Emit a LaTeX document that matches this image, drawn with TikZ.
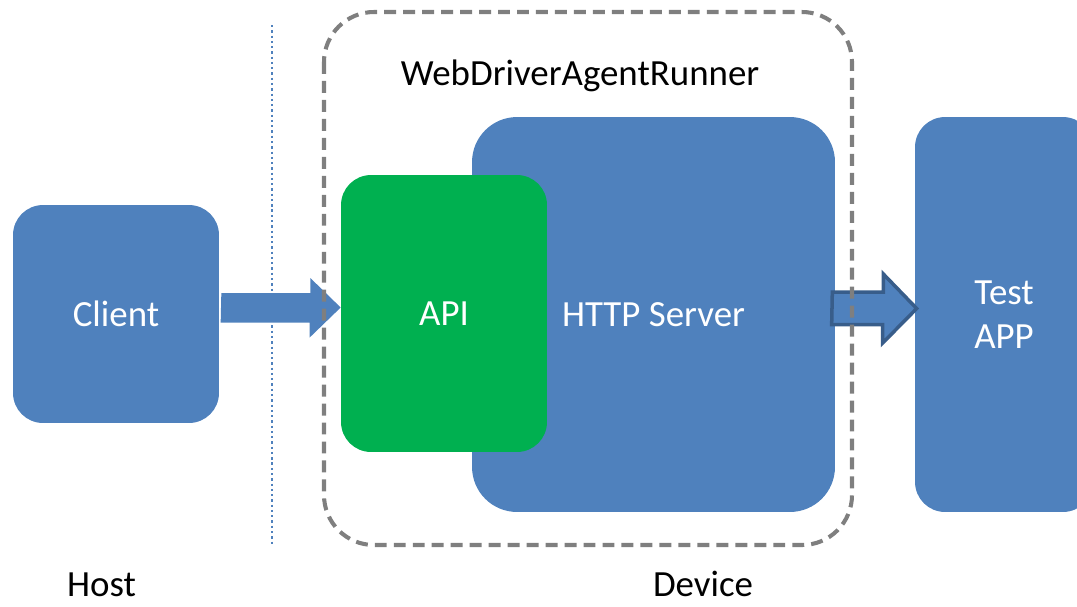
\documentclass[tikz,border=0pt]{standalone}
\usepackage{fontspec}
\setmainfont{Carlito}
\usetikzlibrary{calc}

\definecolor{boxblue}{HTML}{4F81BD}
\definecolor{edgeblue}{HTML}{385D8A}
\definecolor{apigreen}{HTML}{00B050}
\definecolor{framegray}{HTML}{7F7F7F}

\begin{document}
\begin{tikzpicture}[x=0.02cm,y=-0.02cm]
	\tikzset{box/.style={fill=boxblue,text=white,rounded corners=0.6cm,inner sep=0pt,font=\fontsize{21}{25}\selectfont}}
	\tikzset{caption/.style={text=black,inner sep=0pt,anchor=base,font=\fontsize{21}{25}\selectfont}}

	\useasboundingbox (0,0) rectangle (1077,606);
	\clip (0,0) rectangle (1077,606);

	\node[box,minimum width=4.12cm,minimum height=4.36cm] (client) at (116,314) {Client};
	\node[box,rounded corners=0.9cm,minimum width=7.26cm,minimum height=7.9cm] (http) at (653.5,314.5) {HTTP Server};
	\node[box,fill=apigreen,minimum width=4.12cm,minimum height=5.54cm] (api) at (444,313.5) {API};
	\node[box,minimum width=3.56cm,minimum height=7.9cm,align=center] (test) at (1004,314.5) {Test\\APP};

	% host / device split
	\draw[boxblue,line width=1.3pt,dash pattern=on 1.3pt off 1.7pt] (272,25) -- (272,545);

	\node[caption] (host) at (101.5,596) {Host};
	\node[caption] (device) at (703,596) {Device};
	\node[caption] (runner) at (580,85) {WebDriverAgentRunner};

	% arrows
	\fill[boxblue] ($(client.east)+(2,-21)$) -- ++(89,0) -- ++(0,-15) -- ($(api.west)+(0,-6)$)
		-- ++(-31,30) -- ++(0,-15) -- ++(-89,0) -- cycle;
	\filldraw[fill=boxblue,draw=edgeblue,line width=2pt,line join=miter]
		($(http.east)+(-3,-22.5)$) -- ++(51,0) -- ++(0,-18) -- ($(test.west)+(2,-6)$)
		-- ++(-34,34.5) -- ++(0,-18.5) -- ++(-51,0) -- cycle;

	\draw[framegray,line width=2.3pt,dash pattern=on 6.8pt off 4pt,rounded corners=1cm] (324,12) rectangle (852,545);

\end{tikzpicture}
\end{document}
